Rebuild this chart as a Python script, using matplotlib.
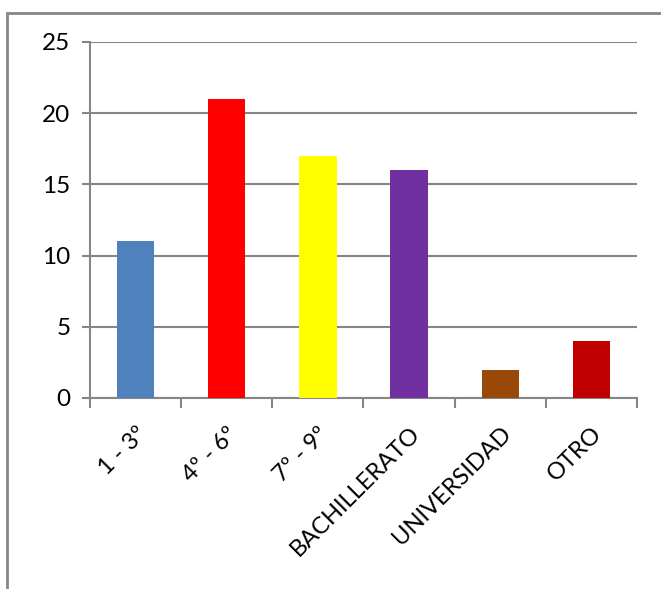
import matplotlib
matplotlib.use("Agg")
import matplotlib.pyplot as plt
from matplotlib.patches import Rectangle

categories = ["1 - 3º", "4º - 6º", "7º - 9º", "BACHILLERATO", "UNIVERSIDAD", "OTRO"]
values = [11, 21, 17, 16, 2, 4]
colors = ["#4F81BD", "#FF0000", "#FFFF00", "#7030A0", "#984807", "#C00000"]
yticks = [0, 5, 10, 15, 20, 25]

W, H = 661, 589
fig = plt.figure(figsize=(W/100, H/100), dpi=100)
plt.rcParams['font.family'] = ['Lato', 'DejaVu Sans']
ax = fig.add_axes([90/W, 1-398/H, (637-90)/W, (398-42)/H])

x = list(range(len(categories)))
ax.bar(x, values, width=0.41, color=colors, zorder=3)
ax.set_xlim(-0.5, len(categories)-0.5)
ax.set_ylim(0, 25)
ax.set_yticks(yticks)
ax.set_yticklabels([str(t) for t in yticks], fontsize=17.5)
ax.yaxis.grid(True, color="#868686", linewidth=1.5, zorder=0)
ax.set_axisbelow(True)

gray = "#868686"
for s in ["top", "right"]:
    ax.spines[s].set_visible(False)
for s in ["left", "bottom"]:
    ax.spines[s].set_color(gray)
    ax.spines[s].set_linewidth(1.5)
ax.tick_params(axis="y", length=6, width=1.5, color=gray, pad=8)
ax.set_xticks([i - 0.5 for i in range(len(categories)+1)], minor=False)
ax.set_xticklabels([])
ax.tick_params(axis="x", which="major", length=7, width=1.5, color=gray)
ax.set_xticks(x, minor=True)
ax.set_xticklabels(categories, minor=True, rotation=45, ha="right", va="top",
                   rotation_mode="anchor", fontsize=17)
ax.tick_params(axis="x", which="minor", length=0, pad=18)

fig.add_artist(Rectangle((7/W, -0.1), 1.2, 1-13/H+0.1, transform=fig.transFigure,
                         fill=False, edgecolor="#868686", linewidth=2))

fig.savefig("out.png", dpi=100)
